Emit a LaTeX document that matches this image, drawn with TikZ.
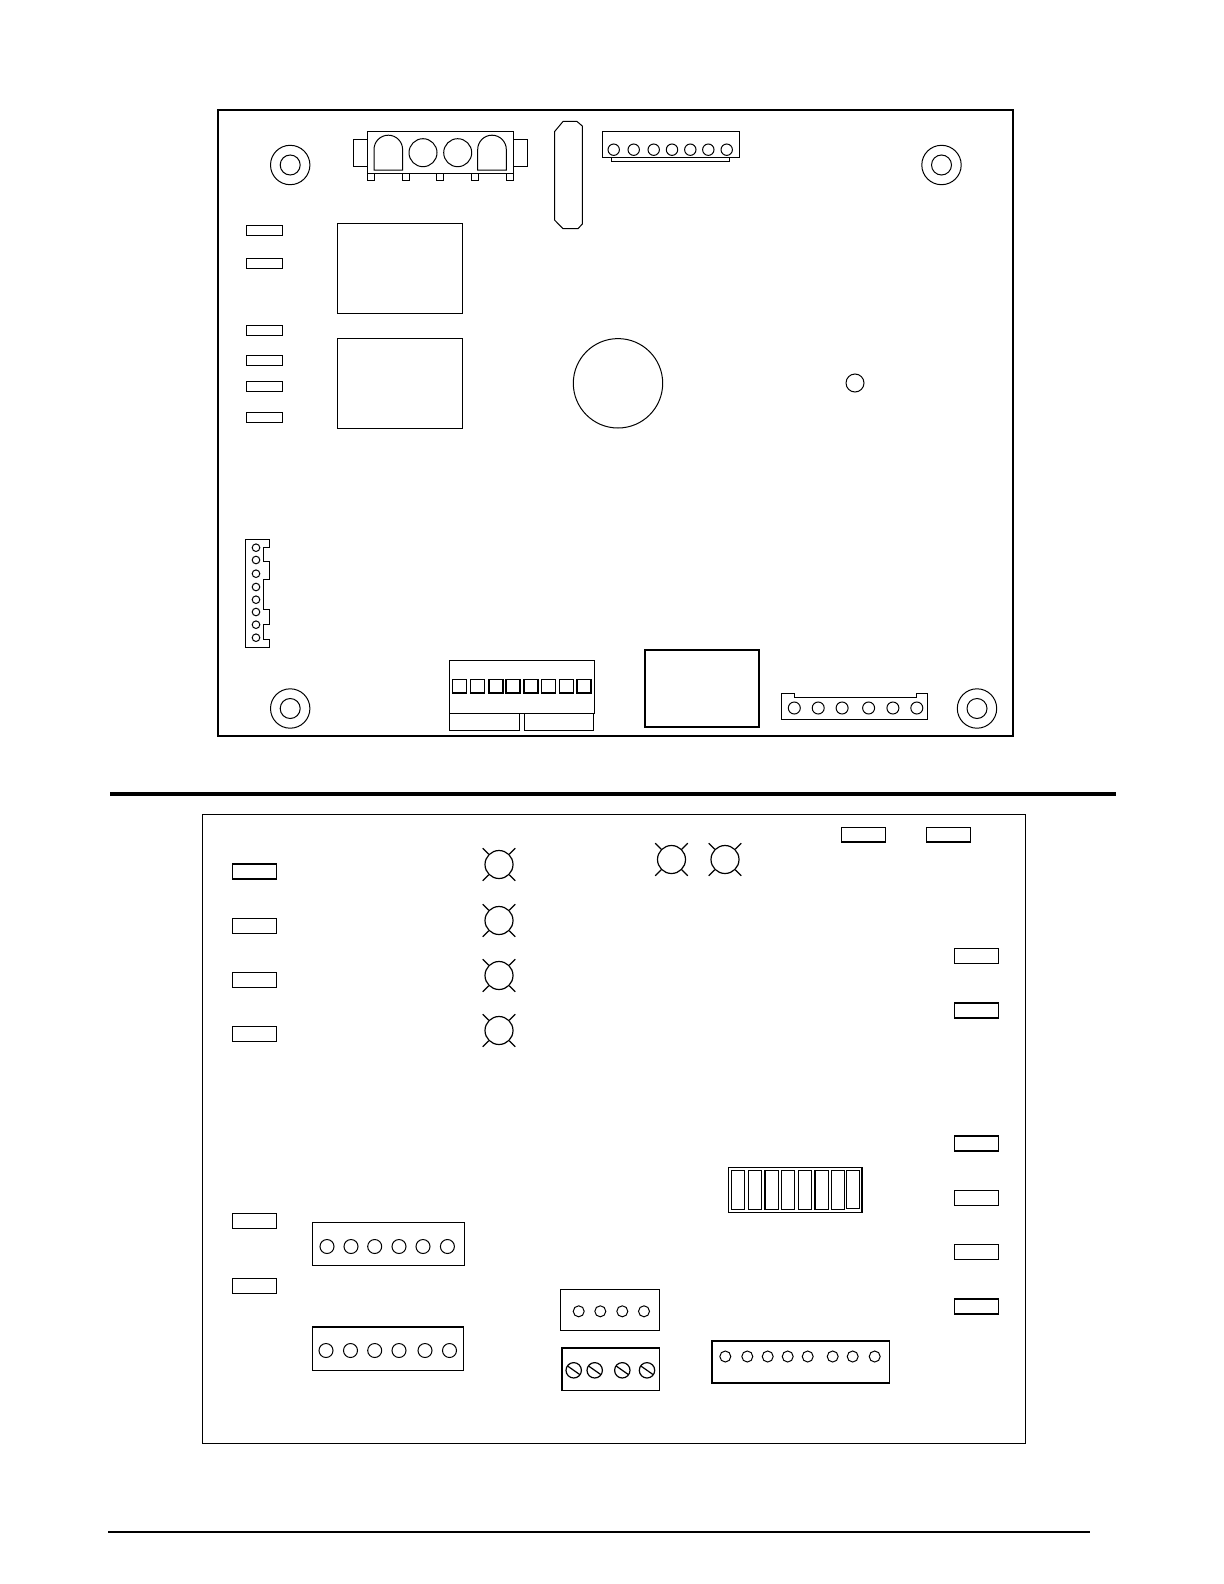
\documentclass[tikz,border=0pt]{standalone}
\begin{document}
\begin{tikzpicture}[x=.5pt,y=-.5pt,line join=miter,
    thinline/.style={line width=.5pt},
    boxline/.style={line width=.6pt},
    heavyline/.style={line width=1pt}]
\useasboundingbox (0,0) rectangle (1224,1584);
% upper board
\draw[heavyline](218,110) rectangle (1013,735.7);
\foreach \x/\y in {290.2/165,941.5/165,290.2/708.5,977/708.5}
{
    \draw[thinline](\x,\y) circle (19.7);
    \draw[thinline](\x,\y) circle (10);
}
% power connector
\draw[thinline](367.5,139.5)--(353.5,139.5)--(353.5,166.5)--(367.5,166.5);
\draw[thinline](513,139.5)--(527,139.5)--(527,166.5)--(513,166.5);
\draw[thinline](367.5,132) rectangle (513,173.5);
\foreach \x in {367.5,402,436.5,471,506}
{
    \draw[thinline](\x,173.5) rectangle ++(7,7);
}
\foreach \x in {374,477.7}
{
    \draw[thinline](\x,170)--(\x,149.5) arc[start angle=180,end angle=360,radius=14.3]--(\x+28.6,170)--cycle;
}
\draw[thinline](423,152.7) circle (14);
\draw[thinline](457.7,152.7) circle (14);
% fuse
\draw[thinline](563,121.5)--(577,121.5)--(582.3,126)--(582.3,224)--(578,228.7)--(563,228.7)--(554.5,220)--(554.5,131.7)--cycle;
% seven pin connector
\draw[boxline](602.3,131.7) rectangle (739.3,157.7);
\draw[thinline](611.3,157.7)--(611.3,161.7)--(729.3,161.7)--(729.3,157.7);
\foreach \x in {613.7,633.7,653.7,672,690.3,708.3,726.7}
{
    \draw[thinline](\x,149.7) circle (5.7);
}
% spade terminals and relays
\foreach \y in {225.5,258.5,325.5,355.5,381.5,412.5}
{
    \draw[thinline](246.5,\y) rectangle (282.5,\y+10);
}
\draw[thinline](337.5,223.5) rectangle (462.5,313);
\draw[thinline](337.5,338.5) rectangle (462.5,428);
\draw[thinline](618,383.3) circle (44.7);
\draw[thinline](855,383) circle (9);
% side connector
\draw[thinline](245.3,539.5)--(269.5,539.5)--(269.5,547.3)--(263.3,547.3)--(263.3,561)--(269.5,561)--(269.5,579)--(263.3,579)--(263.3,609.3)--(269.5,609.3)--(269.5,624.3)--(263.3,624.3)--(263.3,639)--(269.5,639)--(269.5,647.3)--(245.3,647.3)--cycle;
\foreach \y in {547.7,560,573.7,587,599.7,612,624.7,637.7}
{
    \draw[thinline](256,\y) circle (3.8);
}
% terminal block
\draw[thinline](449.5,660.5) rectangle (594,713.5);
\draw[thinline](449.5,713.5) rectangle (519.5,730);
\draw[thinline](524,713.5) rectangle (593.5,730);
\foreach \x in {459.5,477.5,496,513,531,548.5,566.5,584}
{
    \draw[boxline](\x-7,679.5) rectangle (\x+7,693);
}
\draw[heavyline](645,650) rectangle (759,727);
% six pin connector
\draw[thinline](781.5,693)--(794.3,693)--(794.3,697.5)--(916.8,697.5)--(916.8,693)--(927.5,693)--(927.5,719.5)--(781.5,719.5)--cycle;
\foreach \x in {794.3,818.2,842.1,868.6,892.9,916.8}
{
    \draw[thinline](\x,708) circle (6);
}
% separator
\draw[line width=1.8pt](110,794)--(1116,794);
% lower board
\draw[thinline](202.5,814.5) rectangle (1025,1443);
\foreach \y in {864,918.5,972.5,1026.5,1213.5,1278.5}
{
    \draw[boxline](232.5,\y) rectangle (276.5,\y+15);
}
\foreach \x in {841.5,926.5}
{
    \draw[boxline](\x,827.5) rectangle (\x+44,842);
}
\foreach \y in {948.5,1003,1136,1190.5,1244.5,1299}
{
    \draw[boxline](954.5,\y) rectangle (998.5,\y+15);
}
% indicator lamps
\foreach \x/\y in {499/864.5,499/920.5,499/975.5,499/1030.5,671.5/859.5,725/859.5}
{
    \draw[boxline](\x,\y) circle (14);
    \foreach \a in {45,135,225,315}
    {
        \draw[boxline](\x,\y)++(\a:14.5)--++(\a:8.5);
    }
}
% dip switch
\draw[boxline](728.3,1167.5) rectangle (862,1212.3);
\foreach \x in {731.3,748.3,765,781.3,798.3,815,831.3}
{
    \draw[boxline](\x,1170.3) rectangle ++(13.4,39);
}
\draw[boxline](846.3,1170.3) rectangle ++(13.4,38);
% pin headers
\draw[boxline](312.5,1222.5) rectangle (464.5,1265.5);
\foreach \x in {327,351,374.7,399,423,447.4}
{
    \draw[thinline](\x,1246.5) circle (7);
}
\draw[boxline](312.5,1327) rectangle (463.5,1370.5);
\foreach \x in {326,350.5,374.7,399,425,449.5}
{
    \draw[thinline](\x,1350.5) circle (7);
}
\draw[boxline](560.5,1289.5) rectangle (659.3,1330.5);
\foreach \x in {578.7,600.3,622.3,644}
{
    \draw[thinline](\x,1311.3) circle (5.5);
}
\draw[boxline](562,1348) rectangle (659.3,1390.5);
\foreach \x in {573.7,594.7,622.3,647}
{
    \draw[boxline](\x,1370.3) circle (7.7);
    \draw[boxline](\x,1370.3)++(35:-7.7)--++(35:15.4);
}
\draw[boxline](712,1341) rectangle (889.7,1383);
\foreach \x in {725.3,747.3,767.7,787.7,807.7,832.7,852.7,874.7}
{
    \draw[thinline](\x,1356.5) circle (5.5);
}
% bottom rule
\draw[line width=1pt](108,1531.7)--(1090,1531.7);
\end{tikzpicture}
\end{document}
